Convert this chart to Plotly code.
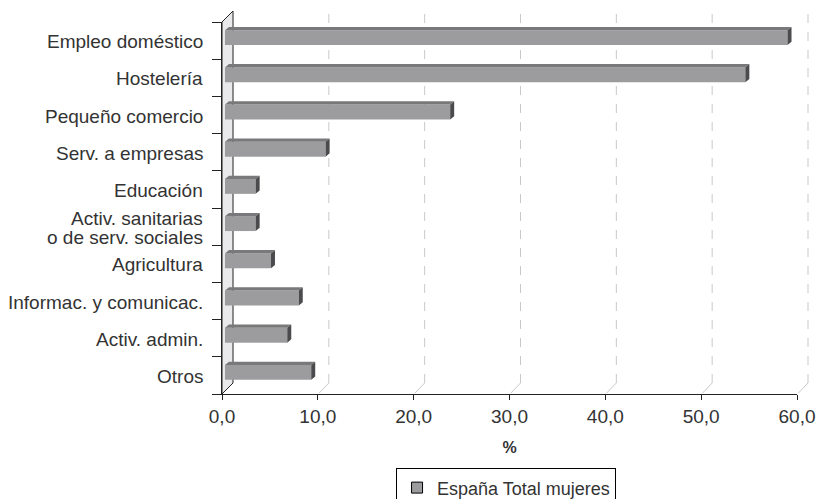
import plotly.graph_objects as go

categories = ["Empleo doméstico", "Hostelería", "Pequeño comercio", "Serv. a empresas",
              "Educación", "Activ. sanitarias<br>o de serv. sociales", "Agricultura",
              "Informac. y comunicac.", "Activ. admin.", "Otros"]
values = [58.7, 54.3, 23.5, 10.5, 3.2, 3.2, 4.8, 7.7, 6.5, 9.0]
x_ticks = [0, 10, 20, 30, 40, 50, 60]
series_name = "España Total mujeres"

# style / geometry constants
XMAX = 60
FRONT_COL = "#9c9c9e"
TOP_COL = "#79797b"
CAP_COL = "#4b4b4d"
WALL_COL = "#e9e9eb"
GRID_COL = "#c9c9c9"
TXT = "#333333"
FONT = "Liberation Sans"
PLOT_W, PLOT_H = 575, 372
ROW_PX = PLOT_H / len(categories)
BACK_PX = 11            # depth of 3D wall in px
BAR_OFF_X = 0.31        # bar front-face offset (data units)
BAR_OFF_Y = 0.08        # bar front-face upward shift (category units)
BAR_W = 0.40
DX = 4 * XMAX / PLOT_W  # bar depth in data units
DY = 3.3 / ROW_PX       # bar depth in category units
LINE_PX = 19            # line spacing of two-line labels

idx = list(range(len(categories)))
centers = [i - BAR_OFF_Y for i in idx]

fig = go.Figure()
fig.add_trace(go.Bar(
    x=values, y=centers, base=[BAR_OFF_X] * len(values), orientation="h",
    width=BAR_W, marker=dict(color=FRONT_COL, line=dict(width=0)),
    showlegend=False, hoverinfo="skip"))

# top faces and end caps (3D look), computed from the values
tx, ty, cx, cy = [], [], [], []
for c, v in zip(centers, values):
    b = BAR_OFF_X
    top = c - BAR_W / 2
    bot = c + BAR_W / 2
    tx += [b, b + v, b + v + DX, b + DX, b, None]
    ty += [top, top, top - DY, top - DY, top, None]
    cx += [b + v, b + v + DX, b + v + DX, b + v, b + v, None]
    cy += [top, top - DY, bot - DY, bot, top, None]
fig.add_trace(go.Scatter(x=tx, y=ty, mode="lines", fill="toself", fillcolor=TOP_COL,
                         line=dict(width=0), showlegend=False, hoverinfo="skip"))
fig.add_trace(go.Scatter(x=cx, y=cy, mode="lines", fill="toself", fillcolor=CAP_COL,
                         line=dict(width=0), showlegend=False, hoverinfo="skip"))

# legend entry
fig.add_trace(go.Scatter(x=[None], y=[None], mode="markers", name=series_name,
                         marker=dict(symbol="square", size=11, color=FRONT_COL,
                                     line=dict(color="#000000", width=1))))

# category labels (as text annotations so two-line labels keep tight spacing)
annotations = []
for i, lab in zip(idx, categories):
    lines = lab.split("<br>")
    n = len(lines)
    for k, ln in enumerate(lines):
        off = (k - (n - 1) / 2) * LINE_PX / ROW_PX
        annotations.append(dict(text=ln, xref="paper", yref="y", x=0, y=i + off + 0.03,
                                xanchor="right", yanchor="middle", xshift=-17,
                                showarrow=False, font=dict(size=19, color=TXT)))

shapes = []
bx = BACK_PX / PLOT_W   # paper offset x
by = BACK_PX / PLOT_H   # paper offset y
# left wall
shapes.append(dict(type="path", xref="paper", yref="paper",
                   path=f"M 0,0 L {bx},{by} L {bx},{1+by} L 0,1 Z",
                   fillcolor=WALL_COL, line=dict(color="#222222", width=1), layer="below"))
# back gridlines + floor diagonals
for t in x_ticks[1:]:
    px = t / XMAX
    shapes.append(dict(type="line", xref="paper", yref="paper",
                       x0=px + bx, x1=px + bx, y0=by, y1=1 + by - 0.008,
                       line=dict(color=GRID_COL, width=1, dash="dash"), layer="below"))
    shapes.append(dict(type="line", xref="paper", yref="paper",
                       x0=px + bx, x1=px + 0.002, y0=by, y1=0.002,
                       line=dict(color=GRID_COL, width=1), layer="below"))

fig.update_layout(
    width=816, height=499,
    margin=dict(l=222, r=19, t=22, b=105, autoexpand=False),
    paper_bgcolor="white", plot_bgcolor="rgba(0,0,0,0)",
    separators=",.",
    font=dict(family=FONT, size=18, color=TXT),
    bargap=0.5,
    shapes=shapes,
    annotations=annotations,
    xaxis=dict(range=[0, XMAX], tickvals=x_ticks, tickformat=".1f", automargin=False,
               showgrid=False, zeroline=False, showline=True, linecolor="#222222",
               linewidth=1, ticks="outside", ticklen=5, tickcolor="#222222",
               tickfont=dict(size=19, color=TXT),
               title=dict(text="<b>%</b>", font=dict(size=16, color=TXT), standoff=16)),
    yaxis=dict(range=[len(categories) - 0.5, -0.5], tickvals=idx,
               ticktext=[""] * len(categories), automargin=False,
               showgrid=False, zeroline=False, showline=True, linecolor="#222222",
               linewidth=1, ticks="",
               minor=dict(tickvals=[i - 0.5 for i in range(len(categories) + 1)],
                          ticks="outside", ticklen=9, tickcolor="#222222", showgrid=False)),
    legend=dict(orientation="h", x=0.494, xanchor="center", y=-0.2, yanchor="top",
                bgcolor="white", bordercolor="#000000", borderwidth=1,
                font=dict(size=18, color=TXT)),
)

fig.write_html("out.html", config={"displayModeBar": False},
               post_script="document.body.style.margin='0';document.body.style.overflow='hidden';")
